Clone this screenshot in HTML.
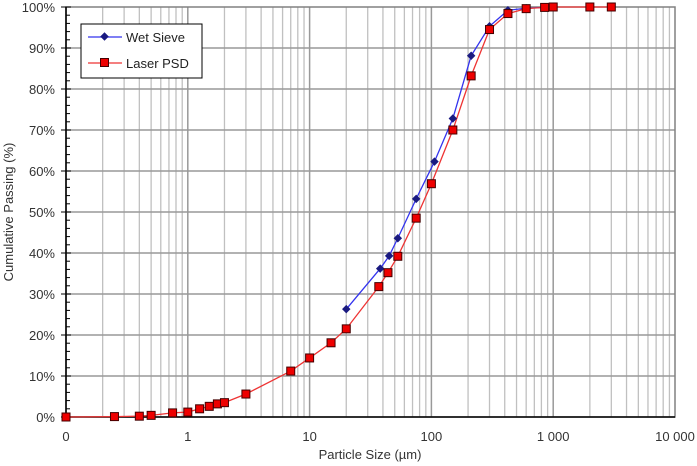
<!DOCTYPE html>
<html><head><meta charset="utf-8"><style>
html,body{margin:0;padding:0;background:#fff;width:697px;height:466px;overflow:hidden}
svg{display:block;font-family:"Liberation Sans",Arial,sans-serif}
</style></head><body>
<svg id="s" width="697" height="466" xmlns="http://www.w3.org/2000/svg">
<g id="grid"></g>
<rect x="66" y="7" width="609" height="410" fill="none" stroke="#808080" stroke-width="1.5"/>
<line x1="66" y1="417" x2="675" y2="417" stroke="#000" stroke-width="1.5"/>
<line x1="66" y1="7" x2="66" y2="417" stroke="#000" stroke-width="1.5"/>
<g id="ticks"></g>
<g id="labels" font-size="13" fill="#333"></g>
<text x="370" y="459" font-size="13" fill="#333" text-anchor="middle">Particle Size (µm)</text>
<text transform="translate(13,212) rotate(-90)" font-size="13" fill="#333" text-anchor="middle">Cumulative Passing (%)</text>
<g id="series"></g>
<rect x="81" y="24" width="121" height="54" fill="#fff" stroke="#000" stroke-width="1"/>
<line x1="88" y1="37" x2="122" y2="37" stroke="#3333ee" stroke-width="1.3"/>
<rect x="101.5" y="33.5" width="6" height="6" fill="#1a1a80" transform="rotate(45 104.5 36.5)"/>
<text x="126" y="42" font-size="13" fill="#222">Wet Sieve</text>
<line x1="88" y1="63" x2="122" y2="63" stroke="#ee3333" stroke-width="1.3"/>
<rect x="100.5" y="58.5" width="8" height="8" fill="#e00" stroke="#400" stroke-width="1"/>
<text x="126" y="68" font-size="13" fill="#222">Laser PSD</text>
</svg>
<script>
var NS="http://www.w3.org/2000/svg";
function el(p,t,a,txt){var e=document.createElementNS(NS,t);for(var k in a)e.setAttribute(k,a[k]);if(txt!=null)e.textContent=txt;document.getElementById(p).appendChild(e);return e;}
var X0=66,DEC=121.8,Y0=417,YS=4.1;
function X(v){return X0+(Math.log10(v)+1)*DEC;}
function Y(p){return Y0-p*YS;}
for(var d=-1;d<4;d++){for(var m=1;m<10;m++){var x=X(m*Math.pow(10,d));
 el("grid","line",{x1:x,y1:7,x2:x,y2:417,stroke:m==1?"#999":"#c0c0c0","stroke-width":m==1?1.5:1.3});}}
for(var p=10;p<100;p+=10)el("grid","line",{x1:66,y1:Y(p),x2:675,y2:Y(p),stroke:"#999","stroke-width":1.5});
for(var p=0;p<=100;p+=2){var big=p%10==0;el("ticks","line",{x1:big?61:66,y1:Y(p),x2:big?71:70,y2:Y(p),stroke:"#000","stroke-width":1});
 if(big)el("labels","text",{x:55,y:Y(p)+5,"text-anchor":"end"},p+"%");}
var xl=[["0",0.1],["1",1],["10",10],["100",100],["1 000",1000],["10 000",10000]];
xl.forEach(function(a){el("labels","text",{x:X(a[1]),y:441,"text-anchor":"middle"},a[0]);});
var L=[[0.1,0],[0.25,0.1],[0.4,0.2],[0.5,0.4],[0.75,1.0],[1,1.2],[1.25,2.0],[1.5,2.6],[1.75,3.2],[2,3.5],[3,5.6],[7,11.2],[10,14.4],[15,18.1],[20,21.5],[37,31.8],[44,35.2],[53,39.2],[75,48.5],[100,56.9],[150,70],[212,83.2],[300,94.5],[425,98.4],[600,99.6],[850,99.9],[1000,100],[2000,100],[3000,100]];
var W=[[20,26.3],[38,36.2],[45,39.3],[53,43.6],[75,53.2],[106,62.3],[150,72.8],[212,88.1],[300,95.3],[425,99.2],[600,99.7],[1000,100]];
function pts(a){return a.map(function(q){return X(q[0])+","+Y(q[1]);}).join(" ");}
el("series","polyline",{points:pts(W),fill:"none",stroke:"#3333ee","stroke-width":1.3});
el("series","polyline",{points:pts(L),fill:"none",stroke:"#ee3333","stroke-width":1.3});
W.forEach(function(q){var x=X(q[0]),y=Y(q[1]);el("series","rect",{x:x-3,y:y-3,width:6,height:6,fill:"#1a1a80",transform:"rotate(45 "+x+" "+y+")"});});
L.forEach(function(q){var x=X(q[0]),y=Y(q[1]);el("series","rect",{x:x-4,y:y-4,width:8,height:8,fill:"#e00",stroke:"#400","stroke-width":1});});
</script>
</body></html>
